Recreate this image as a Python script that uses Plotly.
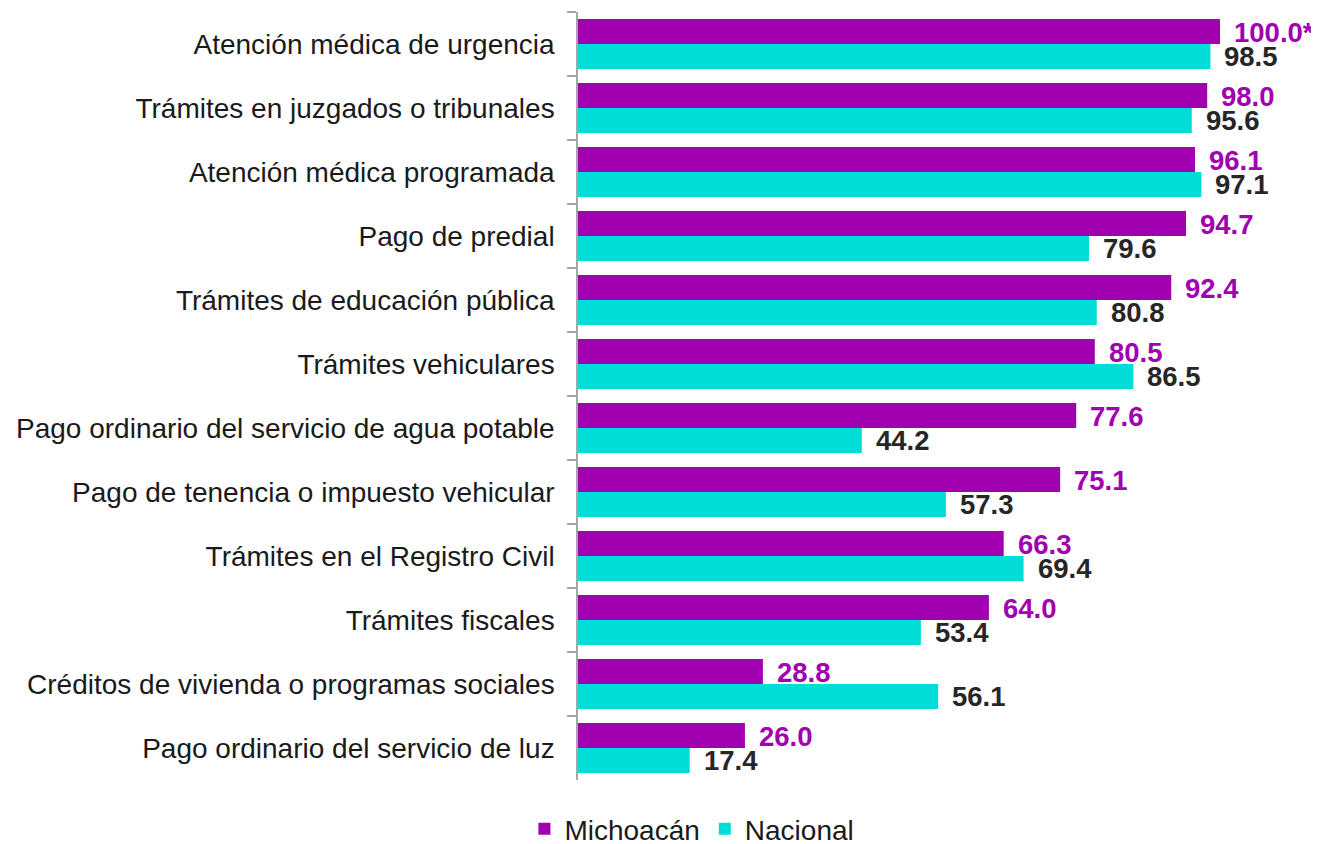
import plotly.graph_objects as go

categories = [
    "Atención médica de urgencia",
    "Trámites en juzgados o tribunales",
    "Atención médica programada",
    "Pago de predial",
    "Trámites de educación pública",
    "Trámites vehiculares",
    "Pago ordinario del servicio de agua potable",
    "Pago de tenencia o impuesto vehicular",
    "Trámites en el Registro Civil",
    "Trámites fiscales",
    "Créditos de vivienda o programas sociales",
    "Pago ordinario del servicio de luz",
]
michoacan = [100.0, 98.0, 96.1, 94.7, 92.4, 80.5, 77.6, 75.1, 66.3, 64.0, 28.8, 26.0]
nacional = [98.5, 95.6, 97.1, 79.6, 80.8, 86.5, 44.2, 57.3, 69.4, 53.4, 56.1, 17.4]
michoacan_labels = ["100.0*"] + [f"{v:.1f}" for v in michoacan[1:]]
nacional_labels = [f"{v:.1f}" for v in nacional]

PURPLE = "#A000B0"
CYAN = "#00DCD8"
FONT = "Liberation Sans, Arial, sans-serif"
FS = 28
FS_VAL = 27.5

fig = go.Figure()
fig.add_trace(go.Bar(y=categories, x=michoacan, orientation="h", name="Michoacán",
                     marker=dict(color=PURPLE, line=dict(width=0))))
fig.add_trace(go.Bar(y=categories, x=nacional, orientation="h", name="Nacional",
                     marker=dict(color=CYAN, line=dict(width=0))))

for c, v, t in zip(categories, michoacan, michoacan_labels):
    fig.add_annotation(x=v, y=c, text=f"<b>{t}</b>", showarrow=False, xanchor="left",
                       yanchor="middle", xshift=12, yshift=12,
                       font=dict(family=FONT, size=FS_VAL, color=PURPLE))
for c, v, t in zip(categories, nacional, nacional_labels):
    fig.add_annotation(x=v, y=c, text=f"<b>{t}</b>", showarrow=False, xanchor="left",
                       yanchor="middle", xshift=12, yshift=-12,
                       font=dict(family=FONT, size=FS_VAL, color="#262626"))

# page body adds an 8px margin, so the figure is drawn 8px smaller and shifted
fig.update_layout(
    width=1311, height=836,
    margin=dict(l=570, r=20, t=4, b=64, autoexpand=False),
    paper_bgcolor="white", plot_bgcolor="white",
    barmode="group", bargap=0.22, bargroupgap=0,
    font=dict(family=FONT, size=FS, color="#1a1a1a"),
    showlegend=True,
    legend=dict(orientation="h", x=0.158, xanchor="center", y=-0.064, yanchor="middle",
                font=dict(family=FONT, size=FS, color="#1a1a1a"),
                itemwidth=30, tracegroupgap=0, traceorder="normal"),
)
fig.update_xaxes(range=[0, 112.3], showgrid=False, showticklabels=False, zeroline=False,
                 showline=False, ticks="")
fig.update_yaxes(autorange="reversed", showline=True, linecolor="#A6A6A6", linewidth=1.5,
                 ticks="outside", ticklen=9, tickcolor="#A6A6A6", tickwidth=1.5,
                 tickson="boundaries", ticklabelstandoff=16, showgrid=False,
                 tickfont=dict(family=FONT, size=FS, color="#1a1a1a"))

fig.write_html("out.html")
